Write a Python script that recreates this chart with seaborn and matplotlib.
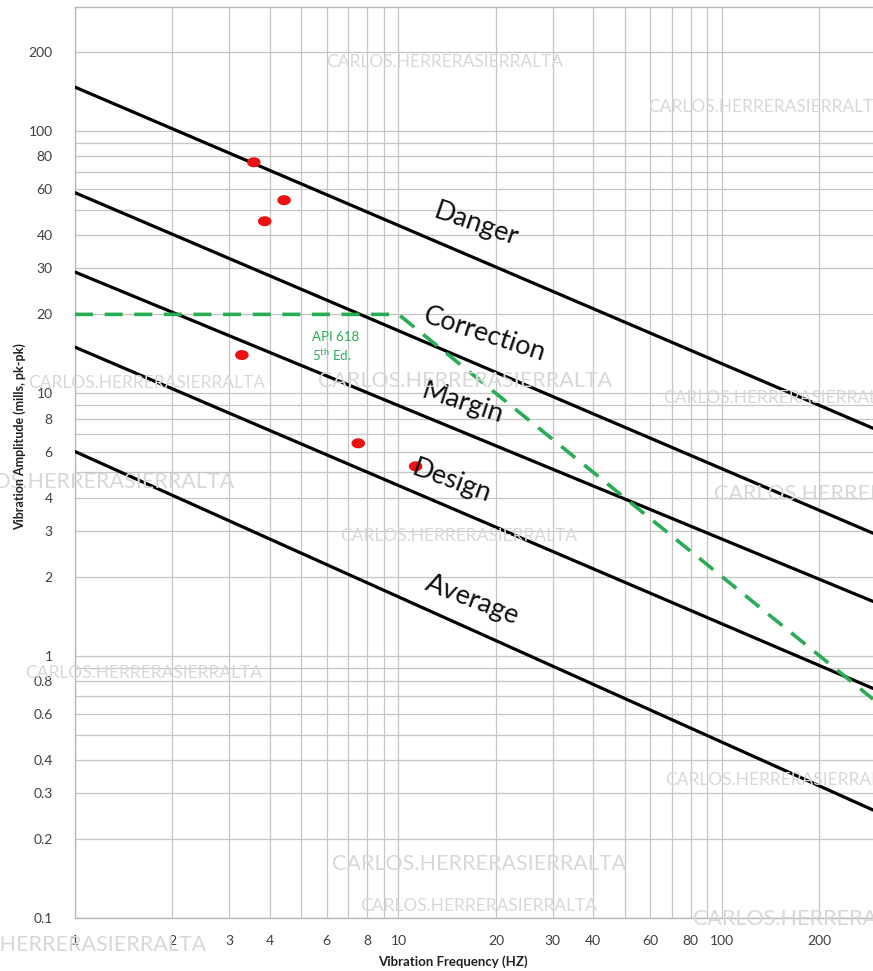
import numpy as np
import pandas as pd
import matplotlib
matplotlib.use("Agg")
import matplotlib.pyplot as plt
import seaborn as sns

sns.set_theme(style="white")
plt.rcParams["font.family"] = ["Lato", "DejaVu Sans"]
plt.rcParams["mathtext.default"] = "regular"

# Severity zones: amplitude (mils pk-pk) at 1 Hz and at the right edge of the chart
zone_names = ["Danger", "Correction", "Margin", "Design", "Average"]
zone_freq = [1.0, 293.0]
zone_amp_start = [147.0, 58.2, 29.0, 15.0, 6.0]
zone_amp_end = [7.36, 2.93, 1.61, 0.75, 0.258]

# API 618 5th Ed. limit
api_freq = [1.0, 10.0, 293.0]
api_amp = [20.0, 20.0, 0.683]

# Measured points
meas_freq = [3.57, 4.43, 3.86, 3.28, 7.51, 11.3]
meas_amp = [76.0, 54.5, 45.3, 14.0, 6.45, 5.27]

x_ticks = [1, 2, 3, 4, 6, 8, 10, 20, 30, 40, 60, 80, 100, 200]
y_ticks = [0.1, 0.2, 0.3, 0.4, 0.6, 0.8, 1, 2, 3, 4, 6, 8, 10, 20, 30, 40, 60, 80, 100, 200]

zones = pd.DataFrame({
    "zone": np.repeat(zone_names, 2),
    "freq": zone_freq * len(zone_names),
    "amp": [v for pair in zip(zone_amp_start, zone_amp_end) for v in pair],
})
api = pd.DataFrame({"freq": api_freq, "amp": api_amp})
meas = pd.DataFrame({"freq": meas_freq, "amp": meas_amp})

fig = plt.figure(figsize=(8.73, 9.71), dpi=100)
ax = fig.add_axes([75 / 873, 1 - 918 / 971, 1 - 75 / 873, (918 - 7) / 971])
ax.set_xscale("log")
ax.set_yscale("log")
ax.set_xlim(1, 293)
ax.set_ylim(0.1, 297)

grid_c = "#c6c6c6"
gx = [m * 10 ** k for k in range(0, 2) for m in range(1, 10)] + [100, 200]
gy = [m * 10 ** k for k in range(-1, 2) for m in range(1, 10)] + [100, 200]
for v in gx:
    ax.axvline(v, color=grid_c, lw=0.9, zorder=0)
for v in gy:
    ax.axhline(v, color=grid_c, lw=0.9, zorder=0)

sns.lineplot(data=zones, x="freq", y="amp", units="zone", estimator=None,
             color="black", lw=2.3, ax=ax, zorder=3, legend=False)
sns.lineplot(data=api, x="freq", y="amp", color="#27ae55", lw=2.6, ax=ax,
             zorder=4, legend=False, dashes=False, linestyle=(0, (5, 3.2)))

t = np.linspace(0, 2 * np.pi, 60)
ellipse = np.column_stack([1.35 * np.cos(t), np.sin(t)])
sns.scatterplot(data=meas, x="freq", y="amp", marker=ellipse, s=95,
                color="#ee1111", edgecolor="none", ax=ax, zorder=5, legend=False)

# zone captions
label_pos = [(17.4, 44.2), (18.5, 16.7), (15.8, 9.2), (14.6, 4.6), (16.9, 1.63)]
label_rot = [-19, -18, -18, -20, -21]
for name, (lx, ly), rot in zip(zone_names, label_pos, label_rot):
    ax.text(lx, ly, name, fontsize=19.5, rotation=rot, ha="center", va="center",
            color="#111111", zorder=6, rotation_mode="anchor")

ax.text(5.4, 16.4, "API 618", color="#27ae55", fontsize=9.5, ha="left", va="center", zorder=6)
ax.text(5.4, 14.0, "5$^{th}$ Ed.", color="#27ae55", fontsize=9.5, ha="left", va="center", zorder=6)

ax.set_xticks(x_ticks)
ax.set_xticklabels([f"{v:g}" for v in x_ticks])
ax.set_yticks(y_ticks)
ax.set_yticklabels([f"{v:g}" for v in y_ticks])
ax.xaxis.set_minor_locator(matplotlib.ticker.NullLocator())
ax.yaxis.set_minor_locator(matplotlib.ticker.NullLocator())
ax.tick_params(axis="both", length=0, labelsize=10, colors="#404040")
ax.tick_params(axis="x", pad=12)
ax.tick_params(axis="y", pad=16)
for s in ["left", "top", "bottom"]:
    ax.spines[s].set_color("#b8b8b8")
    ax.spines[s].set_linewidth(1.0)
ax.spines["right"].set_visible(False)
ax.set_xlabel("")
ax.set_ylabel("")

fig.text(453 / 873, 1 - 962 / 971, "Vibration Frequency (HZ)", fontsize=9.5,
         fontweight="bold", ha="center", va="center", color="#222222")
fig.text(20 / 873, 1 - 437 / 971, "Vibration Amplitude (mills, pk-pk)", fontsize=9,
         fontweight="bold", rotation=90, ha="center", va="center", color="#222222")

# light watermark text
wm = "CARLOS.HERRERASIERRALTA"
wm_spots = [(326, 62, 12.5), (648, 107, 12.5), (28, 383, 12.5), (318, 381, 15.5),
            (663, 398, 12.5), (-60, 482, 15.5), (714, 494, 15.5), (340, 536, 12.5),
            (25, 673, 12.5), (665, 780, 12.5), (332, 864, 15.5), (360, 906, 12.5),
            (693, 919, 15.5), (-88, 945, 15.5)]
for px, py, fs in wm_spots:
    fig.text(px / 873, 1 - py / 971, wm, fontsize=fs, color="#d8d8d8",
             ha="left", va="center", zorder=1)

fig.savefig("out.png", dpi=100)
